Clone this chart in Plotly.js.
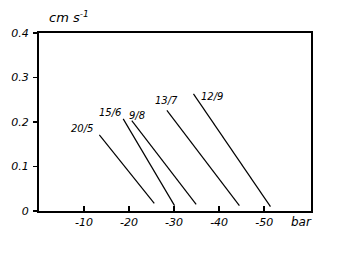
<!DOCTYPE html>
<html>
<head>
<meta charset="utf-8">
<script src="https://cdn.plot.ly/plotly-3.0.1.min.js"></script>
<style>html,body{margin:0;padding:0;background:#fff;}#chart{width:341px;height:261px;}</style>
</head>
<body>
<div id="chart"></div>
<script>
// Series (dates) and line endpoints
const seriesLabels = ["20/5", "15/6", "9/8", "13/7", "12/9"];
const startX = [-13.4, -18.7, -20.6, -28.4, -34.3];
const startY = [0.171, 0.207, 0.203, 0.226, 0.263];
const endX = [-25.6, -30.1, -34.9, -44.5, -51.4];
const endY = [0.017, 0.012, 0.015, 0.012, 0.010];
const labelX = [-9.6, -15.8, -21.8, -28.4, -38.5];
const labelY = [0.186, 0.222, 0.215, 0.249, 0.258];

const xTickVals = [-10, -20, -30, -40, -50];
const xTickText = ["-10", "-20", "-30", "-40", "-50"];
const yTickVals = [0, 0.1, 0.2, 0.3, 0.4];
const yTickText = ["0", "0.1", "0.2", "0.3", "0.4"];

const hand = {family: "DejaVu Sans", size: 11, color: "#000", style: "italic"};

const traces = seriesLabels.map((name, i) => ({
  type: "scatter",
  mode: "lines",
  name: name,
  x: [startX[i], endX[i]],
  y: [startY[i], endY[i]],
  line: {color: "#000", width: 1.2},
  hoverinfo: "skip"
}));

const annotations = seriesLabels.map((name, i) => ({
  x: labelX[i], y: labelY[i], xref: "x", yref: "y",
  xanchor: "center", yanchor: "middle",
  text: name, showarrow: false, font: {family: "DejaVu Sans", size: 10, color: "#000", style: "italic"}
}));
annotations.push({x: 0.11, y: 1.09, xref: "paper", yref: "paper", xanchor: "center", yanchor: "middle",
  text: "cm s<sup>-1</sup>",
  showarrow: false, font: {family: "DejaVu Sans", size: 13, color: "#000", style: "italic"}});
annotations.push({x: 0.965, y: -0.062, xref: "paper", yref: "paper", xanchor: "center", yanchor: "middle",
  text: "bar",
  showarrow: false, font: {family: "DejaVu Sans", size: 12, color: "#000", style: "italic"}});

const layout = {
  width: 341, height: 261,
  margin: {l: 39, r: 30, t: 33, b: 50},
  paper_bgcolor: "#fff", plot_bgcolor: "#fff",
  showlegend: false,
  xaxis: {
    range: [0, -60.4], showgrid: false, zeroline: false,
    showline: true, linecolor: "#000", linewidth: 2, mirror: true,
    tickmode: "array", tickvals: xTickVals, ticktext: xTickText,
    ticks: "inside", ticklen: 5, tickwidth: 1.5, tickcolor: "#000",
    tickfont: hand
  },
  yaxis: {
    range: [0, 0.4], showgrid: false, zeroline: false,
    showline: true, linecolor: "#000", linewidth: 2, mirror: true,
    tickmode: "array", tickvals: yTickVals, ticktext: yTickText,
    ticks: "outside", ticklen: 4, tickwidth: 1.5, tickcolor: "#000",
    ticklabelstandoff: 2,
    tickfont: hand
  },
  annotations: annotations
};

Plotly.newPlot("chart", traces, layout, {staticPlot: true, displayModeBar: false});
</script>
</body>
</html>
